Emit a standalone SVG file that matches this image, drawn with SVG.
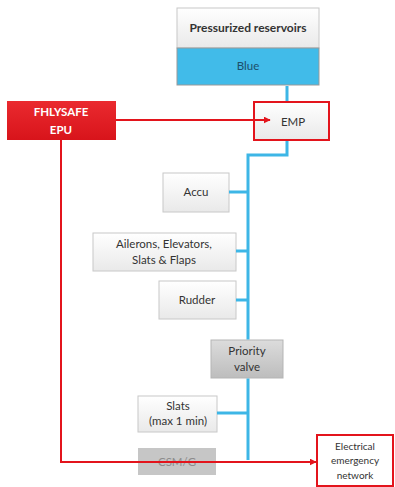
<svg xmlns="http://www.w3.org/2000/svg" width="395" height="487" viewBox="0 0 395 487">
<defs>
<linearGradient id="gw" x1="0" y1="0" x2="0" y2="1"><stop offset="0" stop-color="#ffffff"/><stop offset="1" stop-color="#e9e9e9"/></linearGradient>
<linearGradient id="gg" x1="0" y1="0" x2="0" y2="1"><stop offset="0" stop-color="#dcdcdc"/><stop offset="1" stop-color="#bdbdbd"/></linearGradient>
<linearGradient id="gr" x1="0" y1="0" x2="0" y2="1"><stop offset="0" stop-color="#ea2a2f"/><stop offset="1" stop-color="#d8141b"/></linearGradient>
<marker id="ar" viewBox="0 0 10 10" refX="9" refY="5" markerWidth="7" markerHeight="7" orient="auto" markerUnits="userSpaceOnUse"><path d="M0,0 L10,5 L0,10 z" fill="#e3141c"/></marker>
</defs>
<style>
text{font-family:Lato,"Open Sans","Liberation Sans",sans-serif;font-size:11.5px;fill:#333;text-anchor:middle}
.box{fill:url(#gw);stroke:#c8c8c8;stroke-width:1}
.gray{fill:url(#gg);stroke:#b5b5b5;stroke-width:1}
.blue{stroke:#3db6e6;stroke-width:3;fill:none}
.red{stroke:#e3141c;stroke-width:2;fill:none}
.b{font-weight:bold}
</style>
<rect width="395" height="487" fill="#fff"/>
<g id="reservoirs">
<rect x="177" y="8" width="142" height="40" class="box" stroke="#999"/>
<rect x="177" y="48" width="142" height="37" fill="#41bbe9" stroke="#999"/>
<text x="248" y="32" class="b" style="font-size:12px">Pressurized reservoirs</text>
<text x="248" y="70" style="fill:#1d4f6a">Blue</text>
</g>
<g id="emp">
<rect x="254" y="102" width="75" height="38" fill="url(#gw)" stroke="#e3141c" stroke-width="2"/>
<text x="293" y="126">EMP</text>
</g>
<g id="epu">
<rect x="7" y="101" width="109" height="39" fill="url(#gr)"/>
<text x="61" y="116" class="b" style="fill:#fff">FHLYSAFE</text>
<text x="61" y="134" class="b" style="fill:#fff">EPU</text>
</g>
<g id="accu">
<rect x="163" y="173" width="66" height="39" class="box"/>
<text x="196" y="196">Accu</text>
</g>
<g id="ailerons">
<rect x="93" y="233" width="143" height="38" class="box"/>
<text x="164" y="248">Ailerons, Elevators,</text>
<text x="164" y="264">Slats &amp; Flaps</text>
</g>
<g id="rudder">
<rect x="159" y="281" width="77" height="38" class="box"/>
<text x="197" y="304">Rudder</text>
</g>
<g id="priority">
<rect x="211" y="340" width="72" height="38" class="gray"/>
<text x="247" y="355">Priority</text>
<text x="247" y="371">valve</text>
</g>
<g id="slats">
<rect x="138" y="396" width="79" height="36" class="box"/>
<text x="178" y="410">Slats</text>
<text x="178" y="425">(max 1 min)</text>
</g>
<g id="csmg">
<rect x="138" y="448" width="78" height="27" fill="#c6c6c6"/>
<text x="177" y="466" style="fill:#8c8c8c">CSM/G</text>
</g>
<g id="electrical">
<rect x="317" y="435" width="76" height="51" fill="#fff" stroke="#e3141c" stroke-width="2"/>
<text x="355" y="450" style="font-size:10px">Electrical</text>
<text x="355" y="464" style="font-size:10px">emergency</text>
<text x="355" y="479" style="font-size:10px">network</text>
</g>
<g id="connectors">
<path class="blue" d="M287,86 V101"/>
<path class="blue" d="M287,141 V155 H248 V339.5"/>
<path class="blue" d="M248,378.5 V460"/>
<path class="blue" d="M229,192 H248"/>
<path class="blue" d="M236,251 H248"/>
<path class="blue" d="M236,300 H248"/>
<path class="blue" d="M217,413 H248"/>
<path class="red" d="M116,120 H270" marker-end="url(#ar)"/>
<path class="red" d="M61,140 V462 H316" marker-end="url(#ar)"/>
</g>
</svg>
